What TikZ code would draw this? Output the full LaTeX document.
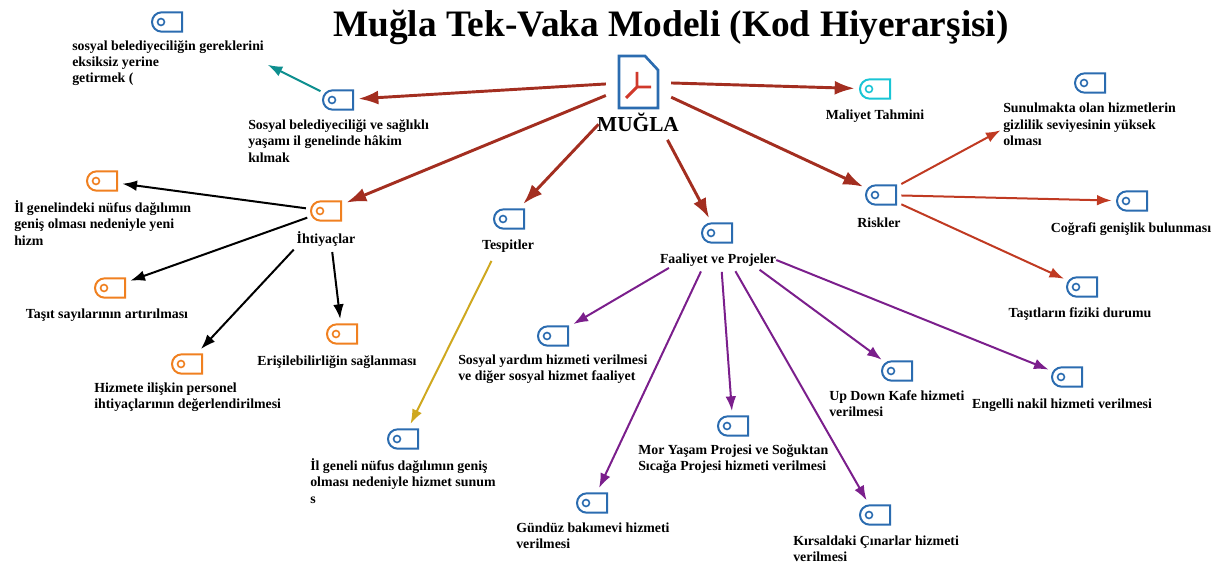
\documentclass[tikz,border=0pt]{standalone}
\usepackage{fontspec}
\setmainfont{Liberation Serif}
\usetikzlibrary{arrows.meta}
\usetikzlibrary{shapes.misc}
\definecolor{tagblue}{HTML}{2B6CB0}
\definecolor{tagorange}{HTML}{F08020}
\definecolor{tagcyan}{HTML}{19C5D5}
\definecolor{hubred}{HTML}{A32E20}
\definecolor{riskred}{HTML}{C03A22}
\definecolor{iconred}{HTML}{D0392B}
\definecolor{linkteal}{HTML}{0E8F8F}
\definecolor{linkgold}{HTML}{CFA81F}
\definecolor{linkpurple}{HTML}{7B1F8C}
\tikzset{
  tagbox/.style={rounded rectangle,rounded rectangle east arc=none,draw=#1,line width=1.5pt,
    minimum width=22.5pt,minimum height=14.5pt,inner sep=0pt,outer sep=4pt,
    path picture={\draw[#1,line width=1.2pt] ([xshift=-4.5pt]path picture bounding box.center) circle (2.6pt);}},
  tagbox/.default=tagblue,
  txt/.style={font=\fontsize{10.4}{12.2}\selectfont\bfseries,align=left,inner sep=0pt,yshift=-1.5pt},
  hubline/.style={draw=hubred,line width=2.2pt,-{Latex[length=15pt,width=10.5pt]}},
  subline/.style={line width=1.5pt,-{Latex[length=11pt,width=8pt]}}
}
\begin{document}
\begin{tikzpicture}[x=0.75pt,y=-0.75pt]
\useasboundingbox (0,0) rectangle (1227,567);
\node[font=\fontsize{28}{30}\selectfont\bfseries,inner sep=0pt] (title) at (671,27) {Muğla Tek-Vaka Modeli (Kod Hiyerarşisi)};

\node[inner sep=0pt,minimum width=29pt,minimum height=39pt,outer sep=10pt] (mIcon) at (638.5,82) {};
\draw[tagblue,line width=2pt] (619,56) -- (645,56) -- (658,70) -- (658,108) -- (619,108) -- cycle;
\draw[iconred,line width=2.2pt] (637,72) -- (637,87) -- (651,87) (637,87) -- (626,98);
\node[font=\fontsize{16}{18}\selectfont\bfseries,inner sep=0pt] (lMugla) at (638,122) {MUĞLA};

\node[tagbox] (tGerek) at (167,22) {};
\node[txt,anchor=west] (lGerek) at (72,61) {sosyal belediyeciliğin gereklerini\\eksiksiz yerine\\getirmek (};
\node[tagbox] (tSosyal) at (338,100) {};
\node[txt,anchor=west] (lSosyal) at (248,139) {Sosyal belediyeciliği ve sağlıklı\\yaşamı il genelinde hâkim\\kılmak};

\node[tagbox=tagorange] (tIhtiyac) at (326,211) {};
\node[txt] (lIhtiyac) at (326,237) {İhtiyaçlar};
\node[tagbox=tagorange] (tNufus) at (102,181) {};
\node[txt,anchor=west] (lNufus) at (14,221) {İl genelindeki nüfus dağılımın\\geniş olması nedeniyle yeni\\hizm};
\node[tagbox=tagorange] (tTasit) at (110,288) {};
\node[txt] (lTasit) at (107,313) {Taşıt sayılarının artırılması};
\node[tagbox=tagorange] (tPersonel) at (187,364) {};
\node[txt,anchor=west] (lPersonel) at (94,395) {Hizmete ilişkin personel\\ihtiyaçlarının değerlendirilmesi};
\node[tagbox=tagorange] (tErisim) at (342,334) {};
\node[txt] (lErisim) at (337,360) {Erişilebilirliğin sağlanması};

\node[tagbox] (tTespit) at (509,219) {};
\node[txt] (lTespit) at (508,244) {Tespitler};
\node[tagbox] (tDagilim) at (403,439) {};
\node[txt,anchor=west] (lDagilim) at (310,479) {İl geneli nüfus dağılımın geniş\\olması nedeniyle hizmet sunum\\s};

\node[tagbox] (tFaaliyet) at (717,233) {};
\node[txt] (lFaaliyet) at (718,258) {Faaliyet ve Projeler};
\node[tagbox] (tYardim) at (553,336) {};
\node[txt,anchor=west] (lYardim) at (458,367.5) {Sosyal yardım hizmeti verilmesi\\ve diğer sosyal hizmet faaliyet};
\node[tagbox] (tGunduz) at (592,503) {};
\node[txt,anchor=west] (lGunduz) at (516,533.5) {Gündüz bakımevi hizmeti\\verilmesi};
\node[tagbox] (tMor) at (733,426) {};
\node[txt,anchor=west] (lMor) at (638,457.5) {Mor Yaşam Projesi ve Soğuktan\\Sıcağa Projesi hizmeti verilmesi};
\node[tagbox] (tKirsal) at (875,515) {};
\node[txt,anchor=west] (lKirsal) at (793,546.5) {Kırsaldaki Çınarlar hizmeti\\verilmesi};
\node[tagbox] (tKafe) at (897,371) {};
\node[txt,anchor=west] (lKafe) at (829,402) {Up Down Kafe hizmeti\\verilmesi};
\node[tagbox] (tEngelli) at (1067,377) {};
\node[txt] (lEngelli) at (1062,403) {Engelli nakil hizmeti verilmesi};

\node[tagbox=tagcyan] (tMaliyet) at (875,89) {};
\node[txt] (lMaliyet) at (875,114) {Maliyet Tahmini};
\node[tagbox] (tRisk) at (881,195) {};
\node[txt] (lRisk) at (879,221) {Riskler};
\node[tagbox] (tGizli) at (1090,83) {};
\node[txt,anchor=west] (lGizli) at (1003,122.5) {Sunulmakta olan hizmetlerin\\gizlilik seviyesinin yüksek\\olması};
\node[tagbox] (tCografi) at (1132,201) {};
\node[txt] (lCografi) at (1131,227) {Coğrafi genişlik bulunması};
\node[tagbox] (tFiziki) at (1082,287) {};
\node[txt] (lFiziki) at (1080,312) {Taşıtların fiziki durumu};

\draw[hubline] (mIcon) -- (tSosyal);
\draw[hubline] (mIcon) -- (tIhtiyac);
\draw[hubline,shorten <=8pt] (mIcon) -- (tTespit);
\draw[hubline,shorten <=7pt] (lMugla.339) -- (tFaaliyet);
\draw[hubline] (mIcon) -- (tRisk);
\draw[hubline] (mIcon) -- (tMaliyet);

\draw[subline,linkteal,shorten >=3pt] (tSosyal) -- (lGerek.east);

\draw[subline,black] (tIhtiyac) -- (tNufus);
\draw[subline,black] (tIhtiyac) -- (tTasit);
\draw[subline,black,shorten <=3pt] (lIhtiyac.south west) -- (tPersonel);
\draw[subline,black,shorten <=4pt] (lIhtiyac.306) -- (tErisim);

\draw[subline,linkgold,shorten <=7pt] (lTespit.208) -- (tDagilim);

\draw[subline,linkpurple,shorten <=2pt] (lFaaliyet.188) -- (tYardim);
\draw[subline,linkpurple,shorten <=4pt] (lFaaliyet.204) -- (tGunduz);
\draw[subline,linkpurple,shorten <=4pt] (lFaaliyet.297) -- (tMor);
\draw[subline,linkpurple,shorten <=4pt] (lFaaliyet.336) -- (tKirsal);
\draw[subline,linkpurple,shorten <=4pt] (lFaaliyet.350) -- (tKafe);
\draw[subline,linkpurple] (lFaaliyet.east) -- (tEngelli);

\draw[subline,riskred,shorten >=2pt] (tRisk) -- (lGizli.183);
\draw[subline,riskred] (tRisk) -- (tCografi);
\draw[subline,riskred] (tRisk) -- (tFiziki);
\end{tikzpicture}
\end{document}
